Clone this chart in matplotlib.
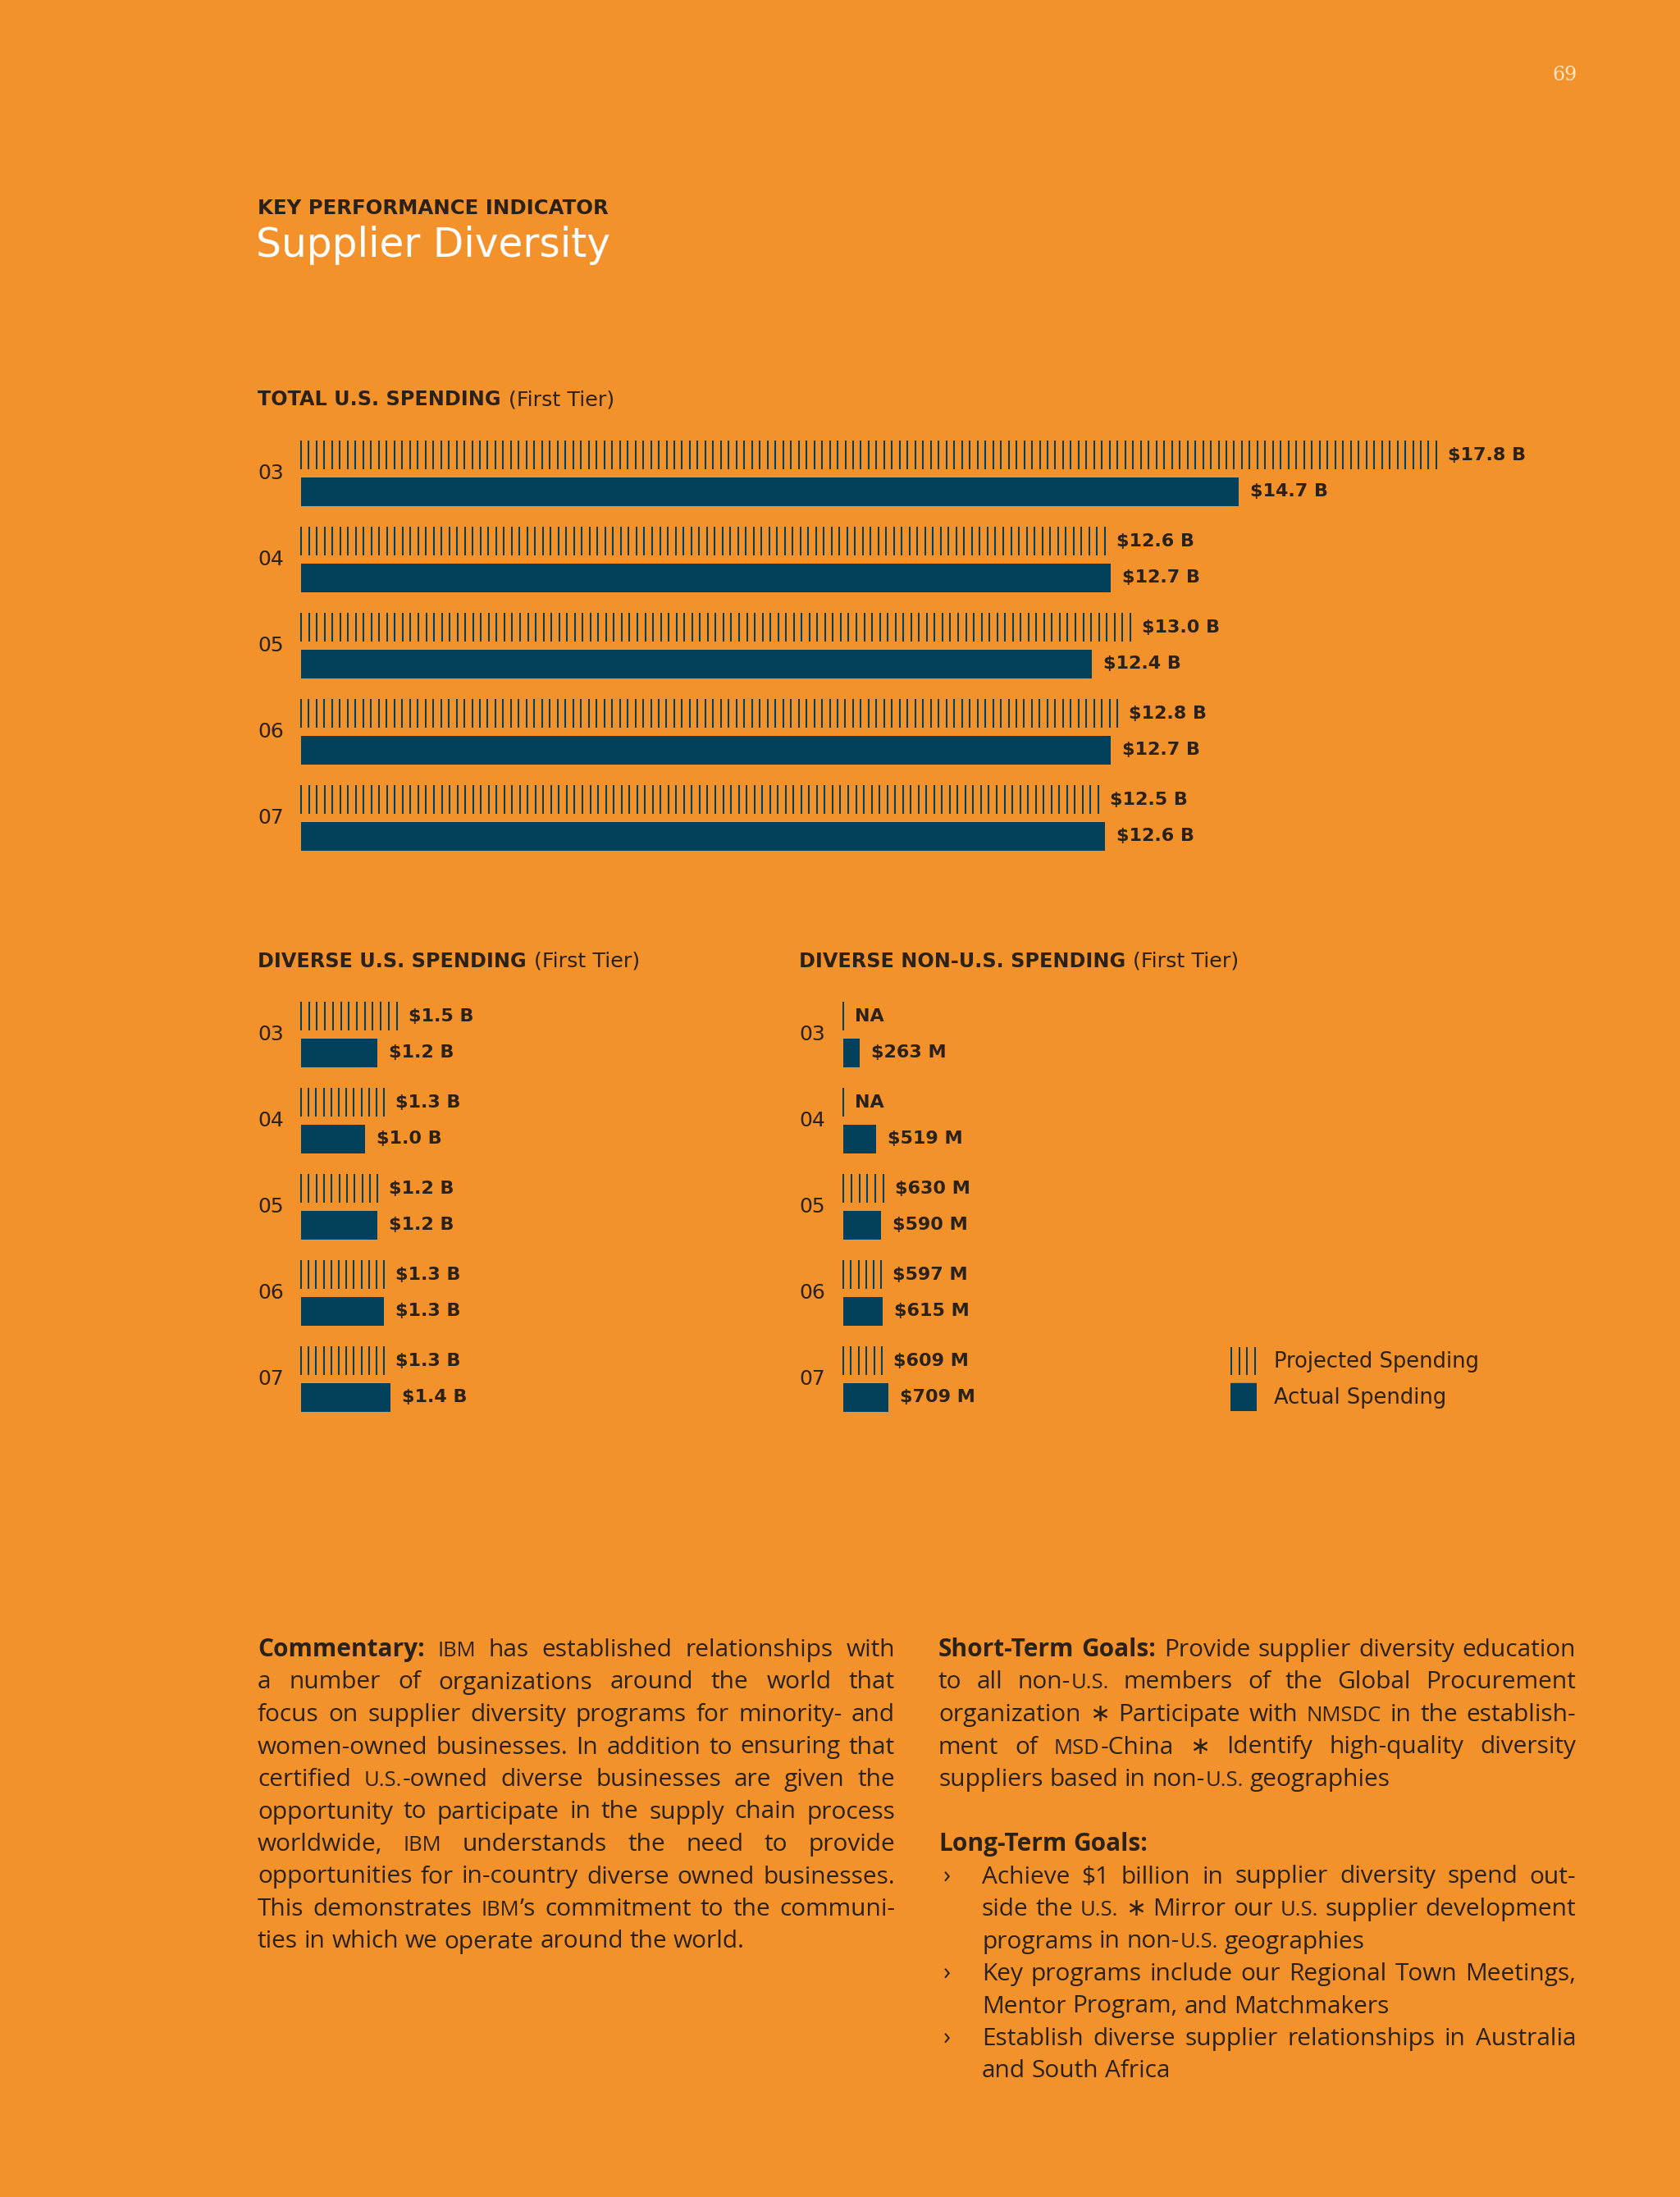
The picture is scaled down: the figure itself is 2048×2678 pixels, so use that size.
import re
import numpy as np
import matplotlib
matplotlib.use("Agg")
import matplotlib.pyplot as plt
from matplotlib.patches import Rectangle

# page size in pixels
W, H = 2048, 2678
ORANGE = "#f3912a"
NAVY = "#03405b"
INK = "#2a2118"
HEAD = ["DejaVu Sans"]
BODY = ["Open Sans", "DejaVu Sans"]

# data (billions of dollars)
years = ["03", "04", "05", "06", "07"]
total_projected = [17.8, 12.6, 13.0, 12.8, 12.5]
total_actual = [14.7, 12.7, 12.4, 12.7, 12.6]
diverse_us_projected = [1.5, 1.3, 1.2, 1.3, 1.3]
diverse_us_actual = [1.2, 1.0, 1.2, 1.3, 1.4]
nonus_projected = [None, None, 0.630, 0.597, 0.609]
nonus_actual = [0.263, 0.519, 0.590, 0.615, 0.709]

SCALE = 77.75   # px per billion
ROW = 105       # px between years
STEP = 9.5      # px between the lines of a projected bar


def fmt_b(v):
    return "NA" if v is None else "$%.1f B" % v


def fmt_m(v):
    return "NA" if v is None else "$%d M" % round(v * 1000)


fig = plt.figure(figsize=(W / 100, H / 100), dpi=100)
fig.patch.set_facecolor(ORANGE)


def ftext(x, y, s, **kw):
    return fig.text(x / W, 1 - y / H, s, **kw)


def chart(x0, y_first, xmax, proj, act, fmt, year_x):
    ax = fig.add_axes([x0 / W, 1 - (y_first + 4.5 * ROW) / H,
                       xmax * SCALE / W, 5 * ROW / H])
    ax.set_xlim(0, xmax)
    ax.set_ylim(4.5, -0.5)
    ax.axis("off")
    step = STEP / SCALE
    for i, (p, a) in enumerate(zip(proj, act)):
        pv = 0.0 if p is None else p
        n = int(round(pv / step))
        xs = np.linspace(0, pv, n + 1) if n > 0 else [0.0]
        ax.vlines(xs, i - 0.38, i - 0.048, color=NAVY, lw=1.45, clip_on=False)
        ax.barh(i + 0.21, a, height=0.333, color=NAVY, clip_on=False)
        ax.annotate(fmt(p), (pv, i - 0.214), xytext=(14, 0),
                    textcoords="offset pixels", va="center", ha="left",
                    fontsize=16, fontweight="bold", family=HEAD, color=INK)
        ax.annotate(fmt(a), (a, i + 0.21), xytext=(14, 0),
                    textcoords="offset pixels", va="center", ha="left",
                    fontsize=16, fontweight="bold", family=HEAD, color=INK)
        ftext(year_x, y_first + i * ROW, years[i], fontsize=18, family=HEAD,
              color=INK, va="center", ha="left")
    return ax


def header(x, y, bold, rest):
    t = ftext(x, y, bold, fontsize=17.2, fontweight="bold", family=HEAD,
              color=INK, va="baseline")
    fig.canvas.draw()
    w = t.get_window_extent().width
    ftext(x + w + 9, y, rest, fontsize=18.3, family=HEAD, color=INK,
          va="baseline")


# page number and titles
ftext(1908, 92, "69", fontsize=17, family=["DejaVu Serif"], color="#fde6c4",
      ha="center", va="center")
ftext(314, 261, "KEY PERFORMANCE INDICATOR", fontsize=17.6, fontweight="bold",
      family=HEAD, color=INK, va="baseline")
ftext(312, 313, "Supplier Diversity", fontsize=35, family=HEAD, color="white",
      va="baseline")

header(314, 494, "TOTAL U.S. SPENDING", "(First Tier)")
header(314, 1179, "DIVERSE U.S. SPENDING", "(First Tier)")
header(974, 1179, "DIVERSE NON-U.S. SPENDING", "(First Tier)")

chart(367, 577, 20, total_projected, total_actual, fmt_b, 314)
chart(367, 1261, 7, diverse_us_projected, diverse_us_actual, fmt_b, 314)
chart(1028, 1261, 5, nonus_projected, nonus_actual, fmt_m, 974)

# legend
lg = fig.add_axes([1500 / W, 1 - 1720 / H, 32 / W, 80 / H])
lg.set_xlim(0, 32)
lg.set_ylim(80, 0)
lg.axis("off")
lg.vlines(np.linspace(1, 30, 4), 2, 36, color=NAVY, lw=1.45)
lg.add_patch(Rectangle((0, 46), 31, 33, color=NAVY))
ftext(1553, 1667, "Projected Spending", fontsize=18.5, family=HEAD, color=INK,
      va="baseline")
ftext(1553, 1711, "Actual Spending", fontsize=18.5, family=HEAD, color=INK,
      va="baseline")

# body text, justified by hand
commentary = [
    "§Commentary: IBM has established relationships with",
    "a number of organizations around the world that",
    "focus on supplier diversity programs for minority- and",
    "women-owned businesses. In addition to ensuring that",
    "certified U.S.-owned diverse businesses are given the",
    "opportunity to participate in the supply chain process",
    "worldwide, IBM understands the need to provide",
    "opportunities for in-country diverse owned businesses.",
    "This demonstrates IBM\u2019s commitment to the communi-",
    "ties in which we operate around the world.",
]
short_goals = [
    "§Short-Term §Goals: Provide supplier diversity education",
    "to all non-U.S. members of the Global Procurement",
    "organization \u2217 Participate with NMSDC in the establish-",
    "ment of MSD-China \u2217 Identify high-quality diversity",
    "suppliers based in non-U.S. geographies",
]
long_goals = [
    ["Achieve $1 billion in supplier diversity spend out-",
     "side the U.S. \u2217 Mirror our U.S. supplier development",
     "programs in non-U.S. geographies"],
    ["Key programs include our Regional Town Meetings,",
     "Mentor Program, and Matchmakers"],
    ["Establish diverse supplier relationships in Australia",
     "and South Africa"],
]

renderer = fig.canvas.get_renderer()
_cache = {}


def seg_w(text, size, weight):
    key = (text, size, weight)
    if key not in _cache:
        t = fig.text(0, 0, text, fontsize=size, fontweight=weight, family=BODY)
        _cache[key] = t.get_window_extent(renderer).width
        t.remove()
    return _cache[key]


def segments(word, size):
    if word.startswith("§"):
        return [(word[1:], size, "bold")]
    out = []
    for k, p in enumerate(re.split(r"((?:[A-Z]\.){2,}|[A-Z]{2,})", word)):
        if p:
            out.append((p, round(size * 0.86, 2) if k % 2 else size, "normal"))
    return out


def space_w(size):
    return seg_w("a a", size, "normal") - seg_w("aa", size, "normal")


def line_info(line, size):
    segs = [segments(w, size) for w in line.split()]
    widths = [sum(seg_w(*s) for s in ss) + 1.0 * (len(ss) - 1) for ss in segs]
    return segs, widths


def min_gap(lines, width, size):
    g = 1e9
    for line in lines[:-1]:
        segs, widths = line_info(line, size)
        g = min(g, (width - sum(widths)) / (len(widths) - 1))
    return g / space_w(size)


BASE = 2019
LEAD = 39.5


def draw_par(lines, x0, width, first, size):
    for j, line in enumerate(lines):
        segs, widths = line_info(line, size)
        if j == len(lines) - 1 or len(widths) == 1:
            gap = space_w(size)
        else:
            gap = (width - sum(widths)) / (len(widths) - 1)
        x = x0
        y = BASE + (first + j) * LEAD
        for ss, ww in zip(segs, widths):
            xx = x
            for t, s, wt in ss:
                ftext(xx, y, t, fontsize=s, fontweight=wt, family=BODY,
                      color=INK, va="baseline")
                xx += seg_w(t, s, wt) + 1.0
            x += ww + gap


size = 21.5
while size > 14:
    ok = (min_gap(commentary, 777, size) > 0.75 and
          min_gap(short_goals, 777, size) > 0.75 and
          all(min_gap(b, 724, size) > 0.75 for b in long_goals if len(b) > 1))
    if ok:
        break
    size -= 0.25

draw_par(commentary, 314, 777, 0, size)
draw_par(short_goals, 1144, 777, 0, size)
draw_par(["§Long-Term §Goals:"], 1144, 777, 6, size)
row = 7
for b in long_goals:
    ftext(1150, BASE + row * LEAD, "\u203a", fontsize=size, family=BODY,
          color=INK, va="baseline")
    draw_par(b, 1197, 724, row, size)
    row += len(b)

fig.savefig("out.png", dpi=100, facecolor=ORANGE)
